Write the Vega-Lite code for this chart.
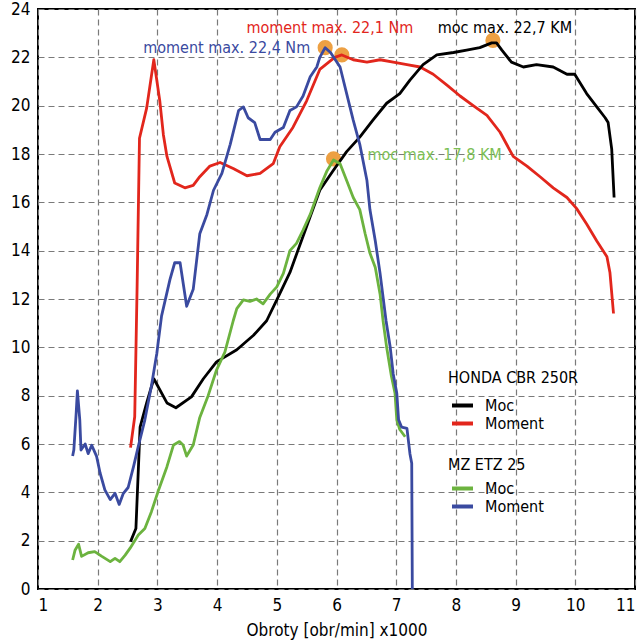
{
  "$schema": "https://vega.github.io/schema/vega-lite/v6.json",
  "width": 597,
  "height": 580,
  "autosize": "none",
  "padding": {"left": 38, "top": 9, "right": 5, "bottom": 53},
  "background": "white",
  "datasets": {
    "honda": [
      {"s": "Moment", "x": 2.55, "y": 5.85}, {"s": "Moment", "x": 2.62, "y": 7.13}, {"s": "Moment", "x": 2.66, "y": 12.5},
      {"s": "Moment", "x": 2.70, "y": 18.65}, {"s": "Moment", "x": 2.82, "y": 19.9}, {"s": "Moment", "x": 2.94, "y": 21.9},
      {"s": "Moment", "x": 3.04, "y": 20.2}, {"s": "Moment", "x": 3.10, "y": 18.8}, {"s": "Moment", "x": 3.16, "y": 17.9},
      {"s": "Moment", "x": 3.29, "y": 16.8}, {"s": "Moment", "x": 3.46, "y": 16.6}, {"s": "Moment", "x": 3.60, "y": 16.7},
      {"s": "Moment", "x": 3.71, "y": 17.06}, {"s": "Moment", "x": 3.88, "y": 17.5}, {"s": "Moment", "x": 4.05, "y": 17.65},
      {"s": "Moment", "x": 4.27, "y": 17.4}, {"s": "Moment", "x": 4.50, "y": 17.1}, {"s": "Moment", "x": 4.72, "y": 17.2},
      {"s": "Moment", "x": 4.94, "y": 17.6}, {"s": "Moment", "x": 5.05, "y": 18.3}, {"s": "Moment", "x": 5.27, "y": 19.1},
      {"s": "Moment", "x": 5.50, "y": 20.2}, {"s": "Moment", "x": 5.72, "y": 21.5}, {"s": "Moment", "x": 5.97, "y": 22.0},
      {"s": "Moment", "x": 6.09, "y": 22.1}, {"s": "Moment", "x": 6.28, "y": 21.9}, {"s": "Moment", "x": 6.51, "y": 21.8},
      {"s": "Moment", "x": 6.73, "y": 21.9}, {"s": "Moment", "x": 6.95, "y": 21.8}, {"s": "Moment", "x": 7.18, "y": 21.7},
      {"s": "Moment", "x": 7.40, "y": 21.6}, {"s": "Moment", "x": 7.62, "y": 21.3}, {"s": "Moment", "x": 7.85, "y": 20.85},
      {"s": "Moment", "x": 8.07, "y": 20.4}, {"s": "Moment", "x": 8.29, "y": 20.0}, {"s": "Moment", "x": 8.52, "y": 19.6},
      {"s": "Moment", "x": 8.74, "y": 18.9}, {"s": "Moment", "x": 8.96, "y": 17.9}, {"s": "Moment", "x": 9.19, "y": 17.5},
      {"s": "Moment", "x": 9.41, "y": 17.06}, {"s": "Moment", "x": 9.63, "y": 16.6}, {"s": "Moment", "x": 9.86, "y": 16.2},
      {"s": "Moment", "x": 10.02, "y": 15.75}, {"s": "Moment", "x": 10.19, "y": 15.1}, {"s": "Moment", "x": 10.36, "y": 14.4},
      {"s": "Moment", "x": 10.53, "y": 13.75}, {"s": "Moment", "x": 10.58, "y": 13.1}, {"s": "Moment", "x": 10.64, "y": 11.4},
      {"s": "Moc", "x": 2.55, "y": 1.96}, {"s": "Moc", "x": 2.64, "y": 2.5}, {"s": "Moc", "x": 2.71, "y": 6.7},
      {"s": "Moc", "x": 2.82, "y": 7.7}, {"s": "Moc", "x": 2.94, "y": 8.7}, {"s": "Moc", "x": 3.16, "y": 7.7},
      {"s": "Moc", "x": 3.31, "y": 7.5}, {"s": "Moc", "x": 3.57, "y": 7.95}, {"s": "Moc", "x": 3.77, "y": 8.7},
      {"s": "Moc", "x": 3.99, "y": 9.4}, {"s": "Moc", "x": 4.33, "y": 9.9}, {"s": "Moc", "x": 4.61, "y": 10.5},
      {"s": "Moc", "x": 4.83, "y": 11.1}, {"s": "Moc", "x": 5.0, "y": 11.96}, {"s": "Moc", "x": 5.22, "y": 13.1},
      {"s": "Moc", "x": 5.44, "y": 14.6}, {"s": "Moc", "x": 5.72, "y": 16.5}, {"s": "Moc", "x": 5.94, "y": 17.3},
      {"s": "Moc", "x": 6.17, "y": 18.1}, {"s": "Moc", "x": 6.39, "y": 18.7}, {"s": "Moc", "x": 6.61, "y": 19.4},
      {"s": "Moc", "x": 6.84, "y": 20.1}, {"s": "Moc", "x": 7.06, "y": 20.5}, {"s": "Moc", "x": 7.23, "y": 21.06},
      {"s": "Moc", "x": 7.45, "y": 21.7}, {"s": "Moc", "x": 7.68, "y": 22.1}, {"s": "Moc", "x": 7.96, "y": 22.2},
      {"s": "Moc", "x": 8.18, "y": 22.3}, {"s": "Moc", "x": 8.40, "y": 22.4}, {"s": "Moc", "x": 8.60, "y": 22.6},
      {"s": "Moc", "x": 8.68, "y": 22.6}, {"s": "Moc", "x": 8.77, "y": 22.3}, {"s": "Moc", "x": 8.93, "y": 21.8},
      {"s": "Moc", "x": 9.13, "y": 21.6}, {"s": "Moc", "x": 9.35, "y": 21.7}, {"s": "Moc", "x": 9.63, "y": 21.6},
      {"s": "Moc", "x": 9.86, "y": 21.3}, {"s": "Moc", "x": 9.99, "y": 21.3}, {"s": "Moc", "x": 10.19, "y": 20.5},
      {"s": "Moc", "x": 10.36, "y": 19.95}, {"s": "Moc", "x": 10.50, "y": 19.5}, {"s": "Moc", "x": 10.55, "y": 19.3},
      {"s": "Moc", "x": 10.61, "y": 18.2}, {"s": "Moc", "x": 10.65, "y": 16.2}
    ],
    "mz": [
      {"s": "Moc", "x": 1.58, "y": 1.2}, {"s": "Moc", "x": 1.62, "y": 1.6}, {"s": "Moc", "x": 1.68, "y": 1.85},
      {"s": "Moc", "x": 1.73, "y": 1.35}, {"s": "Moc", "x": 1.84, "y": 1.5}, {"s": "Moc", "x": 1.95, "y": 1.55},
      {"s": "Moc", "x": 2.07, "y": 1.35}, {"s": "Moc", "x": 2.21, "y": 1.13}, {"s": "Moc", "x": 2.29, "y": 1.27},
      {"s": "Moc", "x": 2.37, "y": 1.13}, {"s": "Moc", "x": 2.46, "y": 1.4}, {"s": "Moc", "x": 2.54, "y": 1.68},
      {"s": "Moc", "x": 2.68, "y": 2.23}, {"s": "Moc", "x": 2.79, "y": 2.5}, {"s": "Moc", "x": 2.90, "y": 3.2},
      {"s": "Moc", "x": 3.02, "y": 4.1}, {"s": "Moc", "x": 3.16, "y": 5.06}, {"s": "Moc", "x": 3.27, "y": 5.96},
      {"s": "Moc", "x": 3.37, "y": 6.1}, {"s": "Moc", "x": 3.43, "y": 5.96}, {"s": "Moc", "x": 3.49, "y": 5.5},
      {"s": "Moc", "x": 3.60, "y": 5.96}, {"s": "Moc", "x": 3.71, "y": 7.1}, {"s": "Moc", "x": 3.85, "y": 8.0},
      {"s": "Moc", "x": 3.99, "y": 9.06}, {"s": "Moc", "x": 4.13, "y": 9.8}, {"s": "Moc", "x": 4.27, "y": 11.1},
      {"s": "Moc", "x": 4.33, "y": 11.6}, {"s": "Moc", "x": 4.44, "y": 11.96}, {"s": "Moc", "x": 4.55, "y": 11.9},
      {"s": "Moc", "x": 4.66, "y": 12.0}, {"s": "Moc", "x": 4.77, "y": 11.8}, {"s": "Moc", "x": 4.89, "y": 12.2},
      {"s": "Moc", "x": 5.0, "y": 12.5}, {"s": "Moc", "x": 5.11, "y": 13.06}, {"s": "Moc", "x": 5.22, "y": 14.0},
      {"s": "Moc", "x": 5.33, "y": 14.3}, {"s": "Moc", "x": 5.44, "y": 14.85}, {"s": "Moc", "x": 5.56, "y": 15.5},
      {"s": "Moc", "x": 5.72, "y": 16.6}, {"s": "Moc", "x": 5.84, "y": 17.3}, {"s": "Moc", "x": 5.95, "y": 17.75},
      {"s": "Moc", "x": 6.06, "y": 17.6}, {"s": "Moc", "x": 6.17, "y": 16.9}, {"s": "Moc", "x": 6.28, "y": 16.2},
      {"s": "Moc", "x": 6.39, "y": 15.7}, {"s": "Moc", "x": 6.48, "y": 14.7}, {"s": "Moc", "x": 6.56, "y": 13.9},
      {"s": "Moc", "x": 6.65, "y": 13.3}, {"s": "Moc", "x": 6.73, "y": 12.2}, {"s": "Moc", "x": 6.78, "y": 11.1},
      {"s": "Moc", "x": 6.84, "y": 10.0}, {"s": "Moc", "x": 6.92, "y": 8.8}, {"s": "Moc", "x": 6.98, "y": 8.1},
      {"s": "Moc", "x": 7.01, "y": 7.0}, {"s": "Moc", "x": 7.06, "y": 6.6}, {"s": "Moc", "x": 7.15, "y": 6.3},
      {"s": "Moment", "x": 1.58, "y": 5.5}, {"s": "Moment", "x": 1.60, "y": 5.75}, {"s": "Moment", "x": 1.64, "y": 7.3},
      {"s": "Moment", "x": 1.66, "y": 8.2}, {"s": "Moment", "x": 1.70, "y": 7.0}, {"s": "Moment", "x": 1.72, "y": 5.75},
      {"s": "Moment", "x": 1.79, "y": 6.0}, {"s": "Moment", "x": 1.84, "y": 5.6}, {"s": "Moment", "x": 1.90, "y": 5.95},
      {"s": "Moment", "x": 1.98, "y": 5.5}, {"s": "Moment", "x": 2.04, "y": 4.8}, {"s": "Moment", "x": 2.12, "y": 4.1},
      {"s": "Moment", "x": 2.21, "y": 3.7}, {"s": "Moment", "x": 2.29, "y": 3.96}, {"s": "Moment", "x": 2.36, "y": 3.5},
      {"s": "Moment", "x": 2.43, "y": 3.96}, {"s": "Moment", "x": 2.51, "y": 4.2}, {"s": "Moment", "x": 2.60, "y": 5.06},
      {"s": "Moment", "x": 2.68, "y": 5.9}, {"s": "Moment", "x": 2.79, "y": 7.0}, {"s": "Moment", "x": 2.90, "y": 8.4},
      {"s": "Moment", "x": 2.99, "y": 9.75}, {"s": "Moment", "x": 3.07, "y": 11.3}, {"s": "Moment", "x": 3.21, "y": 12.8},
      {"s": "Moment", "x": 3.29, "y": 13.5}, {"s": "Moment", "x": 3.38, "y": 13.5}, {"s": "Moment", "x": 3.49, "y": 11.7},
      {"s": "Moment", "x": 3.60, "y": 12.4}, {"s": "Moment", "x": 3.71, "y": 14.7}, {"s": "Moment", "x": 3.83, "y": 15.5},
      {"s": "Moment", "x": 3.94, "y": 16.5}, {"s": "Moment", "x": 4.08, "y": 17.2}, {"s": "Moment", "x": 4.22, "y": 18.4},
      {"s": "Moment", "x": 4.36, "y": 19.8}, {"s": "Moment", "x": 4.44, "y": 19.95}, {"s": "Moment", "x": 4.52, "y": 19.5},
      {"s": "Moment", "x": 4.63, "y": 19.3}, {"s": "Moment", "x": 4.72, "y": 18.6}, {"s": "Moment", "x": 4.89, "y": 18.6},
      {"s": "Moment", "x": 4.97, "y": 18.9}, {"s": "Moment", "x": 5.11, "y": 19.1}, {"s": "Moment", "x": 5.22, "y": 19.8},
      {"s": "Moment", "x": 5.33, "y": 19.95}, {"s": "Moment", "x": 5.44, "y": 20.4}, {"s": "Moment", "x": 5.56, "y": 21.2},
      {"s": "Moment", "x": 5.67, "y": 21.6}, {"s": "Moment", "x": 5.72, "y": 22.0}, {"s": "Moment", "x": 5.81, "y": 22.4},
      {"s": "Moment", "x": 5.90, "y": 22.2}, {"s": "Moment", "x": 6.06, "y": 21.6}, {"s": "Moment", "x": 6.17, "y": 20.5},
      {"s": "Moment", "x": 6.28, "y": 19.4}, {"s": "Moment", "x": 6.39, "y": 18.4}, {"s": "Moment", "x": 6.51, "y": 16.9},
      {"s": "Moment", "x": 6.56, "y": 15.7}, {"s": "Moment", "x": 6.65, "y": 14.4}, {"s": "Moment", "x": 6.73, "y": 13.06},
      {"s": "Moment", "x": 6.83, "y": 11.1}, {"s": "Moment", "x": 6.90, "y": 10.0}, {"s": "Moment", "x": 6.95, "y": 8.9},
      {"s": "Moment", "x": 7.01, "y": 8.1}, {"s": "Moment", "x": 7.04, "y": 7.0}, {"s": "Moment", "x": 7.09, "y": 6.7},
      {"s": "Moment", "x": 7.18, "y": 6.65}, {"s": "Moment", "x": 7.23, "y": 5.6}, {"s": "Moment", "x": 7.26, "y": 5.2},
      {"s": "Moment", "x": 7.27, "y": 0}
    ],
    "peaks": [
      {"k": "mz_moment", "x": 5.81, "y": 22.4, "label": "moment max. 22,4 Nm"},
      {"k": "honda_moment", "x": 6.09, "y": 22.1, "label": "moment max. 22,1 Nm"},
      {"k": "honda_moc", "x": 8.62, "y": 22.7, "label": "moc max. 22,7 KM"},
      {"k": "mz_moc", "x": 5.95, "y": 17.8, "label": "moc max. 17,8 KM"}
    ]
  },
  "encoding": {
    "x": {
      "field": "x",
      "type": "quantitative",
      "scale": {"domain": [1, 11], "nice": false, "zero": false},
      "axis": {
        "values": [1, 2, 3, 4, 5, 6, 7, 8, 9, 10, 11],
        "title": "Obroty [obr/min] x1000",
        "titlePadding": 9
      }
    },
    "y": {
      "field": "y",
      "type": "quantitative",
      "scale": {"domain": [0, 24], "nice": false},
      "axis": {"values": [0, 2, 4, 6, 8, 10, 12, 14, 16, 18, 20, 22, 24], "title": null}
    }
  },
  "layer": [
    {
      "data": {"name": "peaks"},
      "mark": {"type": "circle", "size": 230, "color": "#EDA043", "opacity": 1}
    },
    {
      "data": {"name": "honda"},
      "mark": {"type": "line", "strokeWidth": 2.8, "strokeJoin": "round"},
      "encoding": {
        "order": {"value": null},
        "color": {
          "field": "s",
          "type": "nominal",
          "scale": {"domain": ["Moc", "Moment"], "range": ["#000000", "#E2261C"]},
          "legend": {
            "title": "HONDA CBR 250R",
            "orient": "none",
            "legendX": 410,
            "legendY": 361,
            "titlePadding": 11
          }
        }
      }
    },
    {
      "data": {"name": "mz"},
      "mark": {"type": "line", "strokeWidth": 2.8, "strokeJoin": "round"},
      "encoding": {
        "order": {"value": null},
        "color": {
          "field": "s",
          "type": "nominal",
          "scale": {"domain": ["Moc", "Moment"], "range": ["#6CB33F", "#3A4AA0"]},
          "legend": {
            "title": "MZ ETZ 25",
            "orient": "none",
            "legendX": 410,
            "legendY": 448
          }
        }
      }
    },
    {
      "data": {"name": "peaks"},
      "transform": [{"filter": "datum.k == 'mz_moment'"}],
      "mark": {"type": "text", "color": "#3A4AA0", "align": "right", "baseline": "middle", "dx": -15, "dy": 0, "fontSize": 16},
      "encoding": {"text": {"field": "label"}}
    },
    {
      "data": {"name": "peaks"},
      "transform": [{"filter": "datum.k == 'honda_moment'"}],
      "mark": {"type": "text", "color": "#E2261C", "align": "center", "baseline": "middle", "dx": -12, "dy": -27, "fontSize": 16},
      "encoding": {"text": {"field": "label"}}
    },
    {
      "data": {"name": "peaks"},
      "transform": [{"filter": "datum.k == 'honda_moc'"}],
      "mark": {"type": "text", "color": "#000000", "align": "center", "baseline": "middle", "dx": 12, "dy": -12, "fontSize": 16},
      "encoding": {"text": {"field": "label"}}
    },
    {
      "data": {"name": "peaks"},
      "transform": [{"filter": "datum.k == 'mz_moc'"}],
      "mark": {"type": "text", "color": "#7CBF55", "align": "left", "baseline": "middle", "dx": 34, "dy": -4, "fontSize": 16},
      "encoding": {"text": {"field": "label"}}
    }
  ],
  "resolve": {"scale": {"color": "independent"}, "legend": {"color": "independent"}},
  "config": {
    "font": "DejaVu Sans Condensed, Roboto",
    "view": {"stroke": "#000000", "strokeWidth": 2},
    "axis": {
      "grid": true,
      "gridColor": "#7a7a7a",
      "gridDash": [6, 4],
      "gridWidth": 1.2,
      "gridOpacity": 1,
      "domain": false,
      "ticks": false,
      "labelFontSize": 17,
      "labelColor": "#000000",
      "labelPadding": 8,
      "titleFontSize": 17,
      "titleFontWeight": "normal",
      "titleColor": "#000000"
    },
    "legend": {
      "symbolType": "stroke",
      "symbolStrokeWidth": 4,
      "symbolSize": 441,
      "symbolOffset": 2,
      "labelFontSize": 16,
      "labelColor": "#000000",
      "labelOffset": 10,
      "titleFontSize": 16,
      "titleFontWeight": "normal",
      "titleColor": "#000000",
      "titlePadding": 7,
      "rowPadding": 1,
      "clipHeight": 17,
      "padding": 0,
      "titleLimit": 300
    }
  }
}
